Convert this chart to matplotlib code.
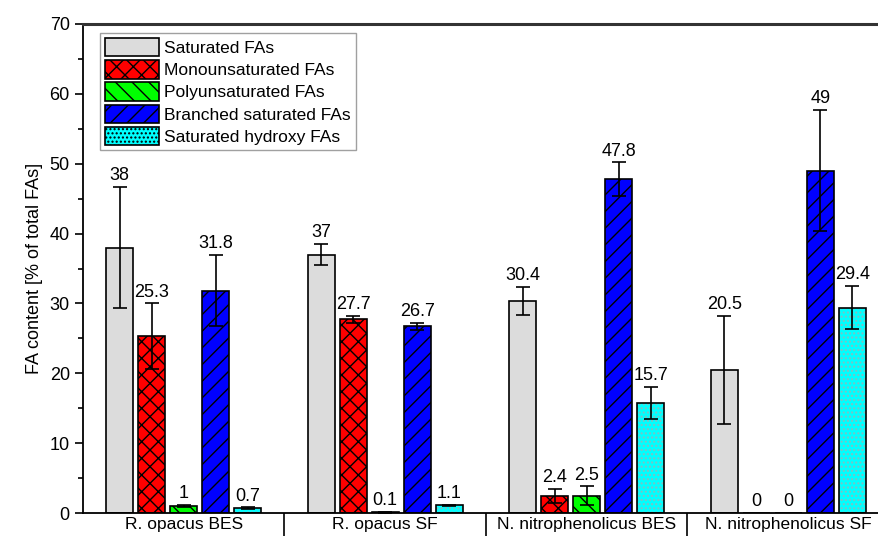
import numpy as np
import matplotlib.pyplot as plt

plt.rcParams['font.family'] = ['Liberation Sans', 'DejaVu Sans']

# Fettsyrasammansättning per stam/odlingssätt
groups = ['R. opacus BES', 'R. opacus SF', 'N. nitrophenolicus BES', 'N. nitrophenolicus SF']
series = ['Saturated FAs', 'Monounsaturated FAs', 'Polyunsaturated FAs',
          'Branched saturated FAs', 'Saturated hydroxy FAs']

saturated = [38, 37, 30.4, 20.5]
mono = [25.3, 27.7, 2.4, 0]
poly = [1, 0.1, 2.5, 0]
branched = [31.8, 26.7, 47.8, 49]
hydroxy = [0.7, 1.1, 15.7, 29.4]

saturated_err = [8.7, 1.5, 2.0, 7.7]
mono_err = [4.7, 0.5, 1.0, 0]
poly_err = [0.2, 0.1, 1.3, 0]
branched_err = [5.1, 0.5, 2.4, 8.7]
hydroxy_err = [0.1, 0.1, 2.3, 3.1]

values = [saturated, mono, poly, branched, hydroxy]
errors = [saturated_err, mono_err, poly_err, branched_err, hydroxy_err]
colors = ['#dcdcdc', '#ff0000', '#00ff00', '#0000ff', '#00ffff']
hatches = ['', 'xx', '\\\\', '//', '....']

fig = plt.figure(figsize=(8.79, 5.36), dpi=100)
ax = fig.add_axes([83 / 879, 23 / 536, 806 / 879, 489 / 536])

x = np.arange(len(groups)) + 0.5
width = 0.133
step = 0.159

for i in range(len(series)):
    pos = x + (i - 2) * step
    vals = np.array(values[i])
    errs = np.array(errors[i])
    if i == 4:
        # prickarna i ljusare färg, kanten ritas separat
        ax.bar(pos, vals, width, color=colors[i], edgecolor='#80c0c0',
               hatch=hatches[i], linewidth=0, zorder=2)
        ax.bar(pos, vals, width, fill=False, edgecolor='black', linewidth=1.2, zorder=3)
        ax.bar([0], [0], 0, color=colors[i], edgecolor='black', hatch='....',
               linewidth=1.2, label=series[i])
    else:
        ax.bar(pos, vals, width, color=colors[i], edgecolor='black',
               hatch=hatches[i], linewidth=1.2, label=series[i], zorder=2)
    mask = vals > 0
    ax.errorbar(pos[mask], vals[mask], yerr=errs[mask], fmt='none', ecolor='black',
                elinewidth=1.2, capsize=5, capthick=1.2, zorder=4)
    for p, v, e in zip(pos, vals, errs):
        ax.text(p, v + e + 0.4, f'{v:g}', ha='center', va='bottom', fontsize=13)

ax.set_xlim(0, 4)
ax.set_ylim(0, 70)
ax.set_yticks(np.arange(0, 71, 10))
ax.set_yticks(np.arange(0, 71, 5), minor=True)
ax.tick_params(axis='y', which='major', length=6, width=1.2, labelsize=13)
ax.tick_params(axis='y', which='minor', length=3.5, width=1.2)

# gruppnamn under axeln och avgränsare mellan grupperna
ax.set_xticks(x)
ax.set_xticklabels(groups, fontsize=12.5)
ax.set_xticks([1, 2, 3], minor=True)
ax.tick_params(axis='x', which='major', length=0, pad=3)
ax.tick_params(axis='x', which='minor', length=30, width=1.2, direction='out')

ax.set_ylabel('FA content [% of total FAs]', fontsize=13, labelpad=5)

for side in ['left', 'bottom']:
    ax.spines[side].set_linewidth(1.3)
ax.spines['top'].set_linewidth(2.2)
ax.spines['top'].set_color('#333333')
ax.spines['right'].set_visible(False)

leg = ax.legend(loc='upper left', bbox_to_anchor=(0.021, 0.982), fontsize=12.5,
                frameon=True, fancybox=False, edgecolor='#888888',
                handlelength=3.1, handleheight=1.25, handletextpad=0.3,
                labelspacing=0.22, borderpad=0.3, borderaxespad=0)
leg.get_frame().set_linewidth(1.0)

fig.savefig('out.png', dpi=100)
